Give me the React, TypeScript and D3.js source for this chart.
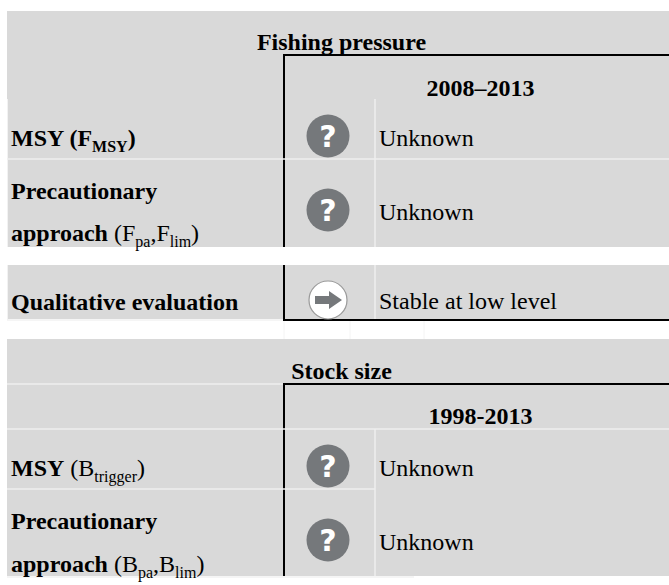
import React, { useEffect, useRef } from "react";
import * as d3 from "d3";

const WIDTH = 669;
const HEIGHT = 585;

// text pieces: [text, style] where b = bold, r = regular, s = subscript (bold), t = subscript (regular)
const sections = ["Fishing pressure", "Stock size"];
const periods = ["2008–2013", "1998-2013"];
const fishingLabels = [
  [[["MSY (F", "b"], ["MSY", "s"], [")", "b"]]],
  [[["Precautionary", "b"]], [["approach", "b"], [" (F", "r"], ["pa", "t"], [",F", "r"], ["lim", "t"], [")", "r"]]],
  [[["Qualitative evaluation", "b"]]],
];
const stockLabels = [
  [[["MSY", "b"], [" (B", "r"], ["trigger", "t"], [")", "r"]]],
  [[["Precautionary", "b"]], [["approach", "b"], [" (B", "r"], ["pa", "t"], [",B", "r"], ["lim", "t"], [")", "r"]]],
];
const fishingStatus = ["Unknown", "Unknown", "Stable at low level"];
const stockStatus = ["Unknown", "Unknown"];
const fishingIcons = ["unknown", "unknown", "stable"];
const stockIcons = ["unknown", "unknown"];

const GRAY = "#d9d9d9";
const SEP = "#eeeeee";
const FONT = "'Liberation Serif', 'Times New Roman', serif";
const FONT_SIZE = 24;
const SUB_SIZE = 16;
const SUB_DROP = 6;

function drawLabel(g, lines, baselines) {
  lines.forEach((parts, i) => {
    const text = g
      .append("text")
      .attr("x", 11)
      .attr("y", baselines[i])
      .attr("font-size", FONT_SIZE)
      .attr("fill", "#000");
    parts.forEach(([str, kind], j) => {
      const sub = kind === "s" || kind === "t";
      const span = text
        .append("tspan")
        .attr("font-weight", kind === "b" || kind === "s" ? "bold" : "normal")
        .attr("font-size", sub ? SUB_SIZE : FONT_SIZE)
        .text(str);
      if (sub) span.attr("dy", SUB_DROP);
      else if (j > 0 && (parts[j - 1][1] === "s" || parts[j - 1][1] === "t")) span.attr("dy", -SUB_DROP);
    });
  });
}

function drawIcon(g, kind, cy) {
  const cx = 328;
  if (kind === "unknown") {
    g.append("circle").attr("cx", cx).attr("cy", cy).attr("r", 21.5).attr("fill", "#75787b");
    g.append("text")
      .attr("x", cx)
      .attr("y", cy + 11)
      .attr("text-anchor", "middle")
      .attr("font-family", "'DejaVu Sans', sans-serif")
      .attr("font-weight", "bold")
      .attr("font-size", 30)
      .attr("fill", "#fff")
      .text("?");
  } else {
    g.append("circle")
      .attr("cx", cx)
      .attr("cy", cy)
      .attr("r", 19)
      .attr("fill", "#fff")
      .attr("stroke", "#9a9a9a")
      .attr("stroke-width", 1.2);
    const arrow = d3.line();
    g.append("path")
      .attr(
        "d",
        arrow([
          [cx - 13, cy - 4],
          [cx + 1, cy - 4],
          [cx + 1, cy - 9],
          [cx + 14, cy],
          [cx + 1, cy + 9],
          [cx + 1, cy + 4],
          [cx - 13, cy + 4],
        ]) + "Z",
      )
      .attr("fill", "#75787b");
  }
}

export default function App() {
  const ref = useRef(null);

  useEffect(() => {
    const svg = d3.select(ref.current);
    svg.selectAll("*").remove();
    svg.attr("font-family", FONT);

    const rect = (x, y, w, h, fill) =>
      svg.append("rect").attr("x", x).attr("y", y).attr("width", w).attr("height", h).attr("fill", fill);
    const vline = (x, y1, y2, color, w) =>
      svg.append("line").attr("x1", x).attr("x2", x).attr("y1", y1).attr("y2", y2).attr("stroke", color).attr("stroke-width", w);
    const hline = (x1, x2, y, color, w) =>
      svg.append("line").attr("x1", x1).attr("x2", x2).attr("y1", y).attr("y2", y).attr("stroke", color).attr("stroke-width", w);
    const label = (x, y, str, bold, anchor = "start") =>
      svg
        .append("text")
        .attr("x", x)
        .attr("y", y)
        .attr("font-size", FONT_SIZE)
        .attr("font-weight", bold ? "bold" : "normal")
        .attr("text-anchor", anchor)
        .attr("fill", "#000")
        .text(str);

    // gray blocks
    rect(7, 11, 662, 236, GRAY);
    rect(7, 265, 662, 54, GRAY);
    rect(7, 339, 662, 237, GRAY);
    rect(7, 576, 407, 2, "#f5f5f5");

    // black frame
    vline(284, 55, 247, "#000", 2);
    vline(284, 265, 320, "#000", 2);
    vline(284, 384, 576, "#000", 2);
    hline(283, 669, 55, "#000", 2);
    hline(283, 669, 320, "#000", 2);
    hline(283, 669, 384, "#000", 2);

    // light gaps between cells, these cut through the black frame
    vline(7.5, 99, 247, "#f2f2f2", 1);
    vline(7.5, 265, 320, "#f2f2f2", 1);
    vline(375, 99, 247, SEP, 1.5);
    vline(375, 265, 319, SEP, 1.5);
    vline(375, 429, 576, SEP, 1.5);
    hline(7, 669, 159, SEP, 1.5);
    hline(7, 283, 384, SEP, 1.5);
    hline(7, 669, 429, SEP, 1.5);
    hline(7, 375, 489, SEP, 1.5);
    hline(7, 283, 320, "#f2f2f2", 1.5);
    [284, 350, 424].forEach((x) => vline(x, 321, 339, "#f4f4f4", 1));

    // section and period headers
    label(341.5, 50, sections[0], true, "middle");
    label(341.5, 379, sections[1], true, "middle");
    label(480.5, 96, periods[0], true, "middle");
    label(480.5, 424, periods[1], true, "middle");

    // rows
    const g = svg.append("g");
    const fishingBaselines = [[146], [199, 241], [310]];
    const fishingTextY = [146, 220, 309];
    const fishingCy = [136, 210, 300];
    fishingLabels.forEach((lines, i) => {
      drawLabel(g, lines, fishingBaselines[i]);
      drawIcon(g, fishingIcons[i], fishingCy[i]);
      label(379, fishingTextY[i], fishingStatus[i], false);
    });

    const stockBaselines = [[476], [529, 572]];
    const stockTextY = [476, 550];
    const stockCy = [466, 540];
    stockLabels.forEach((lines, i) => {
      drawLabel(g, lines, stockBaselines[i]);
      drawIcon(g, stockIcons[i], stockCy[i]);
      label(379, stockTextY[i], stockStatus[i], false);
    });
  }, []);

  return (
    <svg
      ref={ref}
      width={WIDTH}
      height={HEIGHT}
      style={{ position: "absolute", left: 0, top: 0 }}
    />
  );
}
